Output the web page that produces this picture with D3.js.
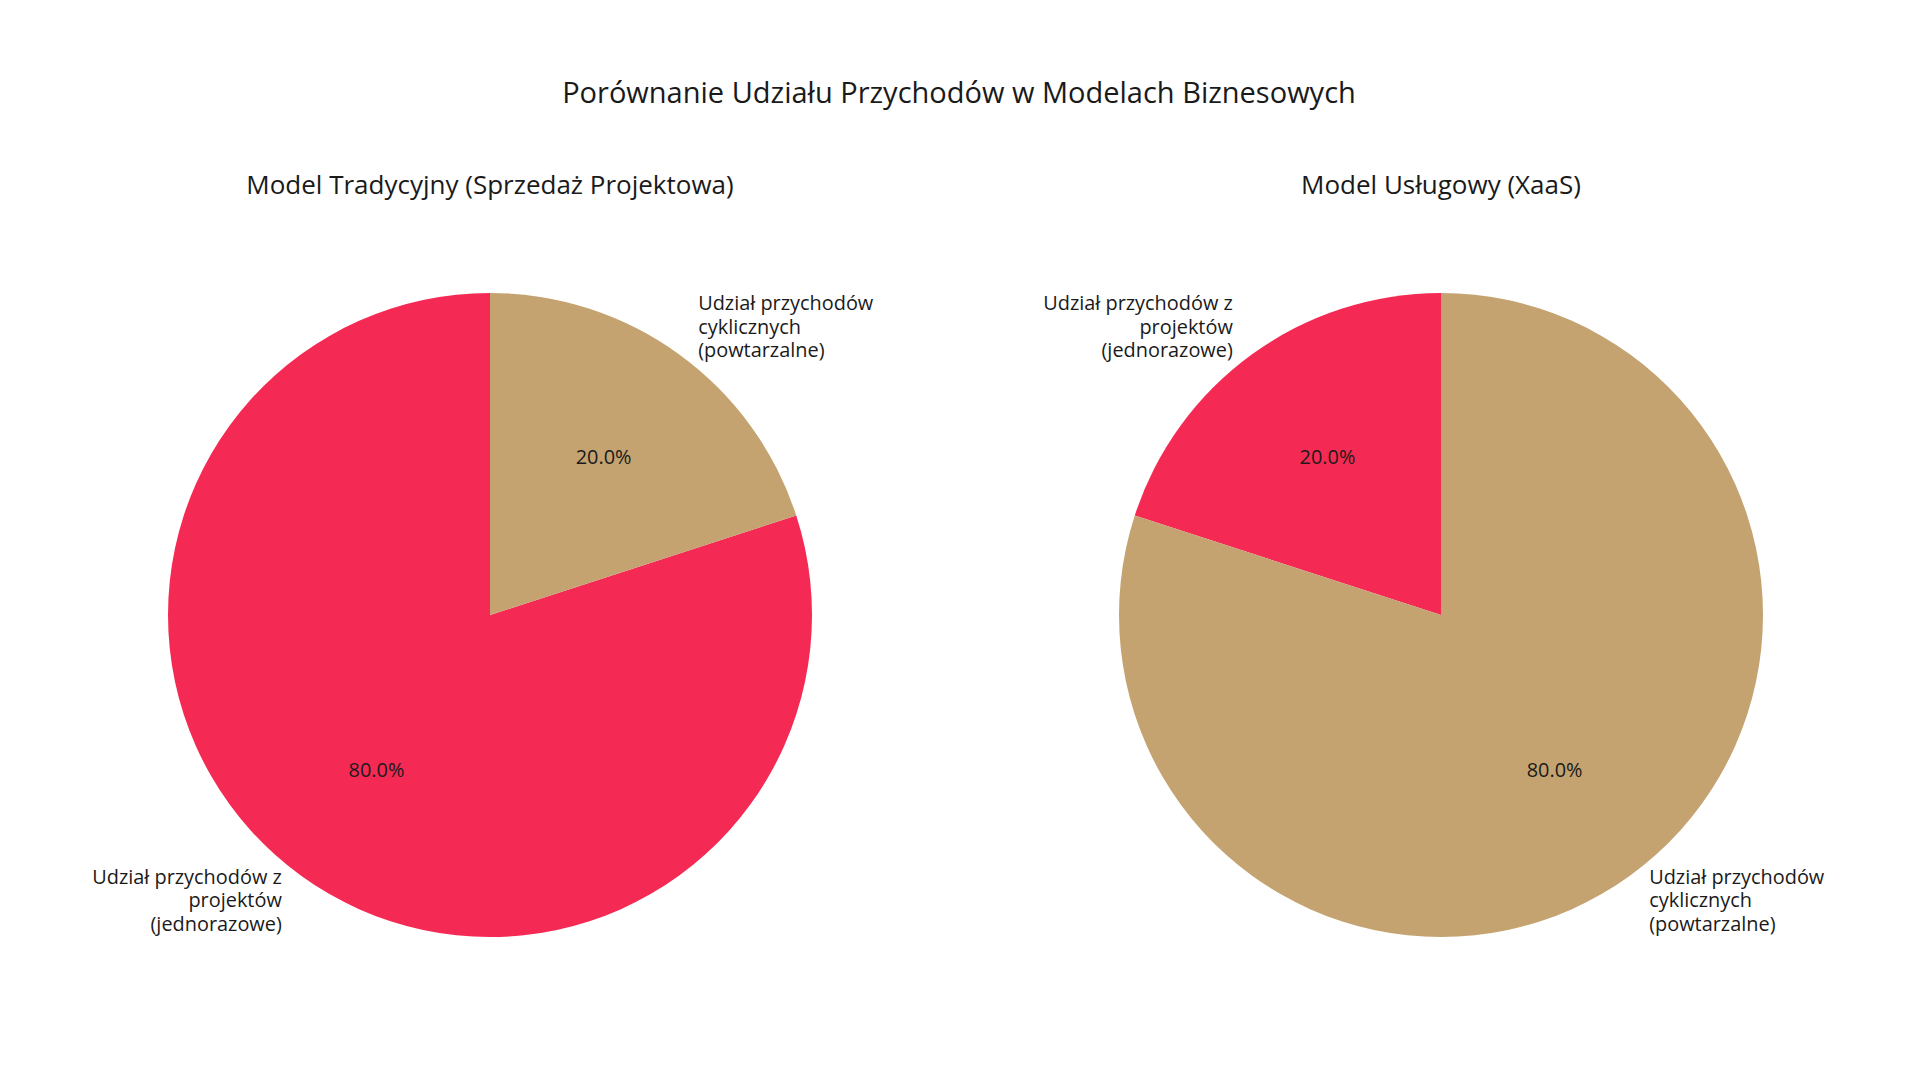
<!DOCTYPE html>
<html><head><meta charset="utf-8">
<script src="https://cdn.jsdelivr.net/npm/d3@7"></script>
<style>body{margin:0;background:#fff}svg{display:block}text{font-family:"Open Sans",sans-serif;fill:#1a1a1a}</style>
</head><body>
<script>
const chartTitle = "Porównanie Udziału Przychodów w Modelach Biznesowych";
const pieTitles = ["Model Tradycyjny (Sprzedaż Projektowa)", "Model Usługowy (XaaS)"];
const categoryLabels = [
  ["Udział przychodów z", "projektów", "(jednorazowe)"],
  ["Udział przychodów", "cyklicznych", "(powtarzalne)"]
];
const categoryColors = ["#F52A54", "#C4A371"];
const traditionalValues = [80, 20];
const serviceValues = [20, 80];

const W = 1920, H = 1080;
const svg = d3.select("body").append("svg").attr("width", W).attr("height", H);

svg.append("text").attr("x", 959).attr("y", 91).attr("text-anchor", "middle")
  .attr("dominant-baseline", "central").style("font-size", "29px").text(chartTitle);

const R = 322;
const centers = [[490, 615], [1441, 615]];
const datasets = [traditionalValues, serviceValues];

// matplotlib-style: startangle 90, counterclockwise
const pie = d3.pie().sort(null).value(d => d.v)
  .startAngle(0).endAngle(-2 * Math.PI);
const arc = d3.arc().innerRadius(0).outerRadius(R);

datasets.forEach((vals, k) => {
  const [cx, cy] = centers[k];
  const g = svg.append("g").attr("transform", `translate(${cx},${cy})`);
  svg.append("text").attr("x", cx).attr("y", 184).attr("text-anchor", "middle")
    .attr("dominant-baseline", "central").style("font-size", "26px").text(pieTitles[k]);
  const data = pie(vals.map((v, i) => ({v, i})));
  g.selectAll("path").data(data).join("path")
    .attr("d", arc).attr("fill", d => categoryColors[d.data.i]);
  const total = d3.sum(vals);
  data.forEach(d => {
    const mid = (d.startAngle + d.endAngle) / 2;
    const sx = Math.sin(mid), sy = -Math.cos(mid);
    // percent at 0.6R
    g.append("text").attr("x", sx * R * 0.6).attr("y", sy * R * 0.6 - 2)
      .attr("text-anchor", "middle").attr("dominant-baseline", "central")
      .style("font-size", "19.9px").text((d.data.v / total * 100).toFixed(1) + "%");
    // label at 1.1R
    const lines = categoryLabels[d.data.i];
    const lh = 23.5;
    const t = g.append("text").attr("text-anchor", sx < 0 ? "end" : "start")
      .style("font-size", "19.9px");
    lines.forEach((ln, j) => {
      t.append("tspan").attr("x", sx * R * 1.1)
        .attr("y", sy * R * 1.1 - 2 + (j - (lines.length - 1) / 2) * lh)
        .attr("dominant-baseline", "central").text(ln);
    });
  });
});
</script>
</body></html>
